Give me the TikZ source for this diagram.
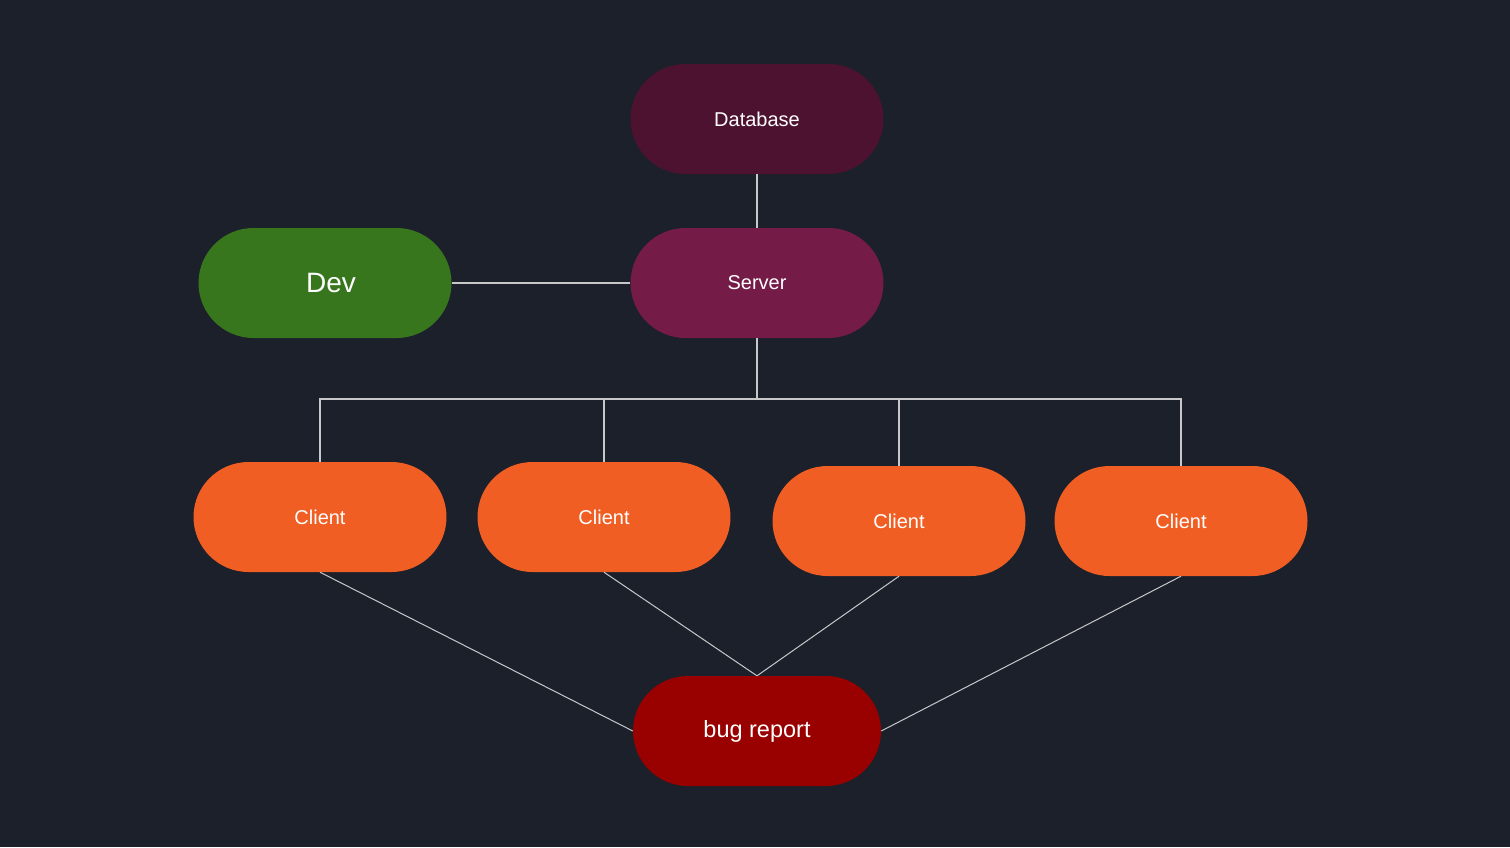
\documentclass[tikz,border=0pt]{standalone}
\usepackage{fontspec}
\setmainfont{Liberation Sans}
\definecolor{bgc}{HTML}{1B202B}
\definecolor{dbc}{HTML}{4D1230}
\definecolor{svc}{HTML}{741B47}
\definecolor{devc}{HTML}{38761D}
\definecolor{clc}{HTML}{F05E23}
\definecolor{bugc}{HTML}{990000}
\definecolor{linec}{HTML}{C8C8C8}
\begin{document}
\begin{tikzpicture}[x=1pt,y=-1pt,
  pill/.style={rectangle, rounded corners=55pt, minimum width=253pt, minimum height=110pt, inner sep=0pt, text=white, font=\fontsize{20}{23}\selectfont},
  conn/.style={draw=linec, line width=1.4pt}]
\fill[bgc] (0,0) rectangle (1510,847);
\useasboundingbox (0,0) rectangle (1510,847);
\node[pill, fill=dbc] (db) at (757,119) {Database};
\node[pill, fill=svc] (sv) at (757,283) {Server};
\node[pill, fill=devc, font=\fontsize{28}{31}\selectfont] (dev) at (325,283) {\hspace{12pt}Dev};
\node[pill, fill=clc] (c1) at (320,517) {Client};
\node[pill, fill=clc] (c2) at (604,517) {Client};
\node[pill, fill=clc] (c3) at (899,521) {Client};
\node[pill, fill=clc] (c4) at (1181,521) {Client};
\node[pill, fill=bugc, minimum width=248pt, font=\fontsize{23.5}{26}\selectfont] (bug) at (757,731) {bug report};
\coordinate (bus) at (757,399);
\draw[conn] (db.south) -- (sv.north);
\draw[conn] (dev.east) -- (sv.west);
\draw[conn] (sv.south) -- (bus);
\draw[conn] (bus) -| (c1.north);
\draw[conn] (bus) -| (c2.north);
\draw[conn] (bus) -| (c3.north);
\draw[conn] (bus) -| (c4.north);
\draw[conn, line width=1pt] (c1.south) -- (bug.west);
\draw[conn, line width=1pt] (c2.south) -- (bug.north);
\draw[conn, line width=1pt] (c3.south) -- (bug.north);
\draw[conn, line width=1pt] (c4.south) -- (bug.east);
\end{tikzpicture}
\end{document}
